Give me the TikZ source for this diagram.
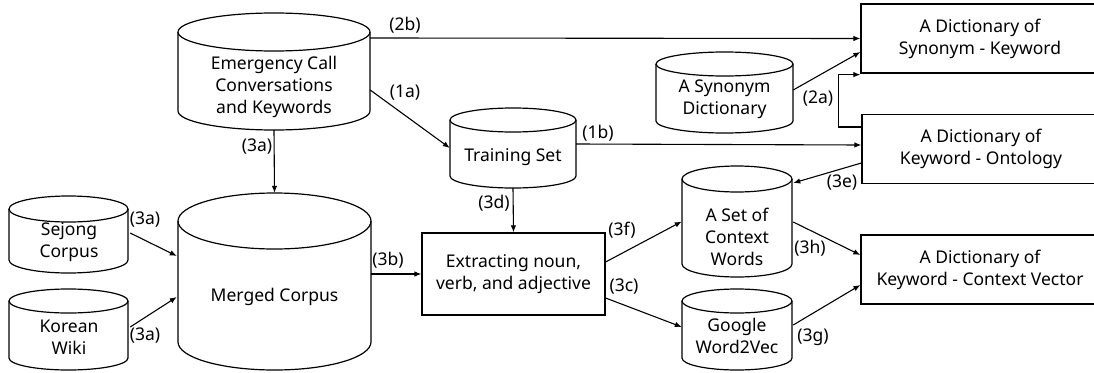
\documentclass[tikz,border=0pt]{standalone}
\usepackage{fontspec}
\setmainfont{Noto Sans}
\usetikzlibrary{calc,arrows.meta}
\newcommand\drawcyl[6]{% name, cx, rx, top centre y, bottom centre y, ry
  \node[inner sep=0pt, minimum width={2*#3*1pt}, minimum height={(#5-#4+2*#6)*1pt}] (#1) at (#2,{(#4+#5)/2}) {};
  \draw[shapeline] (#2,#4) ellipse [x radius=#3pt, y radius=#6pt];
  \draw[shapeline] ({#2-#3},#4) -- ({#2-#3},#5) arc[start angle=180, end angle=360, x radius=#3pt, y radius=#6pt] -- ({#2+#3},#4);
}
\tikzset{
  shapeline/.style={line width=1.2pt, black},
  txt/.style={align=center, inner sep=0pt, font=\fontsize{17.5}{22}\selectfont},
  lbl/.style={inner sep=0pt, font=\fontsize{17.5}{20}\selectfont},
  dbox/.style={draw, line width=1.2pt, minimum width=238pt, minimum height=69pt, inner sep=0pt, align=center, font=\fontsize{17.5}{22}\selectfont},
  arr/.style={line width=1.1pt, -{Latex[length=7pt,width=5.5pt]}},
}
\begin{document}
\begin{tikzpicture}[x=1pt,y=-1pt]
\useasboundingbox (0,0) rectangle (1094,372);
\clip (0,0) rectangle (1094,372);
% cylinders
\drawcyl{emg}{274}{96}{32}{111}{19}
\drawcyl{trn}{513}{63}{120}{176}{12}
\drawcyl{syn}{724.5}{68.5}{64}{121}{12}
\drawcyl{mrg}{274.5}{96.5}{221}{342}{28}
\drawcyl{sej}{68.5}{59.5}{209}{260}{13}
\drawcyl{kor}{68.5}{59.5}{301}{358}{12}
\drawcyl{ctx}{737}{55}{179}{264}{13}
\drawcyl{ggl}{737}{55}{301}{358}{12}
% cylinder texts
\node[txt] (emgT) at (274,87) {Emergency Call\\Conversations\\and Keywords};
\node[txt] (trnT) at (513,157) {Training Set};
\node[txt] (synT) at (724.5,99) {A Synonym\\Dictionary};
\node[txt] (mrgT) at (274.5,297) {Merged Corpus};
\node[txt] (sejT) at (69,242.5) {Sejong\\Corpus};
\node[txt] (korT) at (69,337) {Korean\\Wiki};
\node[txt] (ctxT) at (737,237) {A Set of\\Context\\Words};
\node[txt] (gglT) at (737,336) {Google\\Word2Vec};
% boxes
\node[dbox, minimum width=183pt, minimum height=82pt] (ext) at (513.5,274) {Extracting noun,\\verb, and adjective};
\node[dbox] (dsk) at (980,38.5) {A Dictionary of\\Synonym - Keyword};
\node[dbox] (dko) at (981,149) {A Dictionary of\\Keyword - Ontology};
\node[dbox] (dcv) at (980,269.5) {A Dictionary of\\Keyword - Context Vector};
% connectors
\draw[arr] ($(emg.east)+(0,-33.5)$) -- (dsk.west);
\draw[arr] ($(emg.east)+(0,18.5)$) -- (trn.west);
\draw[arr] (emg.south) -- (mrg.north);
\draw[arr] ($(sej.east)+(2,-1.5)$) -- ($(mrg.west)+(-1,-25.5)$);
\draw[arr] ($(kor.east)+(2,-2.5)$) -- ($(mrg.west)+(-1,15.5)$);
\draw[arr] ($(mrg.east)+(0,-7.5)$) -- (ext.west);
\draw[arr] (trn.south) -- (ext.north);
\draw[arr] ($(trn.east)+(0,-4)$) -- ($(dko.west)+(0,-4)$);
\draw[arr] ($(syn.east)+(0,-2.5)$) -- ($(dsk.west)+(0,13.5)$);
\draw[arr] ($(dko.west)+(0,-22)$) -- ++(-23,0) |- ($(dsk.south west)+(0,1)$);
\draw[arr] ($(dko.west)+(0,14)$) -- ($(ctx.east)+(1,-38.5)$);
\draw[arr] ($(ext.east)+(0,-12)$) -- (ctx.west);
\draw[arr] ($(ext.east)+(0,24)$) -- ($(ggl.west)+(0,-2.5)$);
\draw[arr] ($(ctx.east)+(1,0.5)$) -- ($(dcv.west)+(0,-14.5)$);
\draw[arr] ($(ggl.east)+(1,-4.5)$) -- ($(dcv.west)+(0,15.5)$);
% labels
\node[lbl] (l2b) at (405,25) {(2b)};
\node[lbl] (l1a) at (405,93) {(1a)};
\node[lbl] (l3a) at (257,147) {(3a)};
\node[lbl] (l3aS) at (145,220) {(3a)};
\node[lbl] (l3aK) at (145,336) {(3a)};
\node[lbl] (l3b) at (388,260) {(3b)};
\node[lbl] (l3d) at (494,203) {(3d)};
\node[lbl] (l1b) at (598,133) {(1b)};
\node[lbl] (l2a) at (818,99) {(2a)};
\node[lbl] (l3e) at (842,183) {(3e)};
\node[lbl] (l3f) at (622,230) {(3f)};
\node[lbl] (l3c) at (624,287) {(3c)};
\node[lbl] (l3h) at (810,248) {(3h)};
\node[lbl] (l3g) at (813,337) {(3g)};
\end{tikzpicture}
\end{document}
